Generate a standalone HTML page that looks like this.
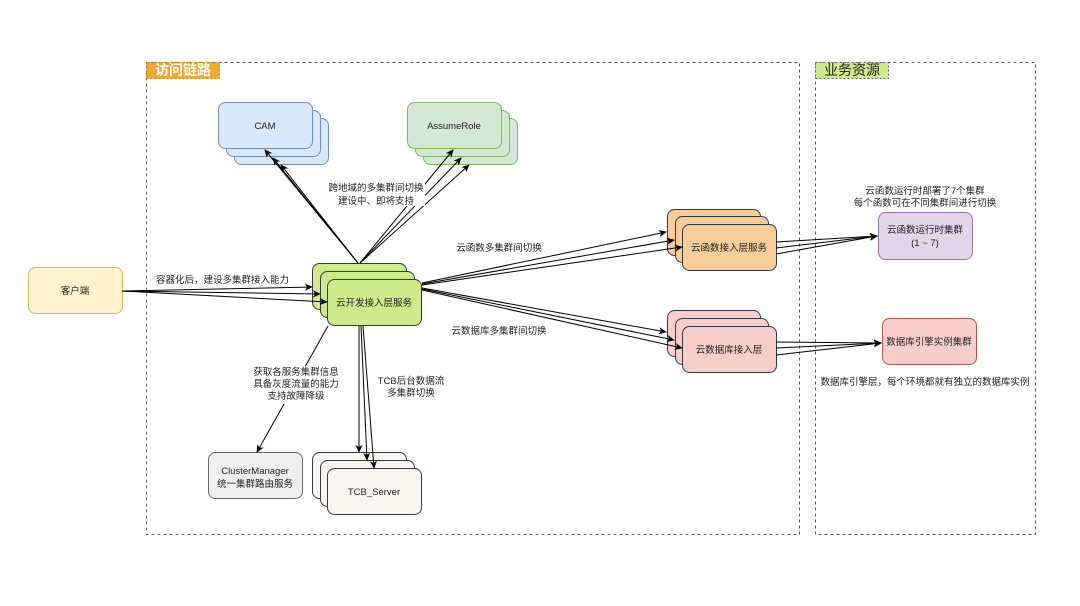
<!DOCTYPE html>
<html><head><meta charset="utf-8"><style>
html,body{margin:0;padding:0;background:#fff;}
svg text{font-family:"Liberation Sans","Noto Sans CJK SC",sans-serif;font-size:9.5px;fill:#222;}
</style></head><body>
<svg width="1080" height="601" viewBox="0 0 1080 601" xmlns="http://www.w3.org/2000/svg">
<defs>
<marker id="a" markerWidth="8" markerHeight="8" refX="7" refY="4" orient="auto" markerUnits="userSpaceOnUse">
<path d="M0,0.5 L8,4 L0,7.5 L2,4 Z" fill="#000"/></marker>
</defs>
<rect x="0" y="0" width="1080" height="601" fill="#fff"/>
<!-- containers -->
<rect x="146.5" y="62.5" width="653" height="472" fill="none" stroke="#555" stroke-dasharray="3,3"/>
<rect x="146.5" y="62.5" width="73" height="16" fill="#f0a830" stroke="#c08020" stroke-dasharray="2,2"/>
<text x="183" y="75" text-anchor="middle" style="font-size:14px;fill:#fff;font-weight:bold">访问链路</text>
<rect x="815.5" y="62.5" width="220" height="472" fill="none" stroke="#555" stroke-dasharray="3,3"/>
<rect x="815.5" y="62.5" width="73" height="16" fill="#cdeb8b" stroke="#666" stroke-dasharray="2,2"/>
<text x="852" y="75" text-anchor="middle" style="font-size:14px;fill:#222">业务资源</text>

<g stroke-width="1">
<rect x="28.5" y="267.5" width="94" height="46" rx="7" fill="#fff2cc" stroke="#d6b656"/>
<text x="75" y="294" text-anchor="middle">客户端</text>
<rect x="234.5" y="118.5" width="94" height="46" rx="7" fill="#dae8fc" stroke="#6c8ebf"/>
<rect x="226.5" y="110.5" width="94" height="46" rx="7" fill="#dae8fc" stroke="#6c8ebf"/>
<rect x="218.5" y="102.5" width="94" height="46" rx="7" fill="#dae8fc" stroke="#6c8ebf"/>
<text x="265" y="129" text-anchor="middle">CAM</text>
<rect x="423.5" y="118.5" width="94" height="46" rx="7" fill="#d5e8d4" stroke="#82b366"/>
<rect x="415.5" y="110.5" width="94" height="46" rx="7" fill="#d5e8d4" stroke="#82b366"/>
<rect x="407.5" y="102.5" width="94" height="46" rx="7" fill="#d5e8d4" stroke="#82b366"/>
<text x="454" y="129" text-anchor="middle">AssumeRole</text>
<rect x="312.5" y="263.5" width="94" height="46" rx="7" fill="#cdeb8b" stroke="#36393d"/>
<rect x="320.5" y="271.5" width="94" height="46" rx="7" fill="#cdeb8b" stroke="#36393d"/>
<rect x="327.5" y="279.5" width="94" height="46" rx="7" fill="#cdeb8b" stroke="#36393d"/>
<text x="374" y="306" text-anchor="middle">云开发接入层服务</text>
<rect x="667.5" y="209.5" width="93" height="46" rx="7" fill="#f8cd9b" stroke="#36393d"/>
<rect x="675.5" y="216.5" width="93" height="46" rx="7" fill="#f8cd9b" stroke="#36393d"/>
<rect x="682.5" y="224.5" width="94" height="46" rx="7" fill="#f8cd9b" stroke="#36393d"/>
<text x="729" y="251" text-anchor="middle">云函数接入层服务</text>
<rect x="667.5" y="310.5" width="93" height="46" rx="7" fill="#f8cecc" stroke="#36393d"/>
<rect x="675.5" y="318.5" width="93" height="46" rx="7" fill="#f8cecc" stroke="#36393d"/>
<rect x="682.5" y="326.5" width="94" height="46" rx="7" fill="#f8cecc" stroke="#36393d"/>
<text x="729" y="353" text-anchor="middle">云数据库接入层</text>
<rect x="878.5" y="212.5" width="94" height="47" rx="7" fill="#e1d5e7" stroke="#9673a6"/>
<text x="925" y="233" text-anchor="middle">云函数运行时集群</text>
<text x="925" y="246" text-anchor="middle">(1 ~ 7)</text>
<rect x="882.5" y="318.5" width="94" height="46" rx="7" fill="#f8cecc" stroke="#b85450"/>
<text x="929" y="345" text-anchor="middle">数据库引擎实例集群</text>
<rect x="208.5" y="452.5" width="94" height="46" rx="7" fill="#eeeeee" stroke="#666"/>
<text x="255" y="474" text-anchor="middle">ClusterManager</text>
<text x="255" y="487" text-anchor="middle">统一集群路由服务</text>
<rect x="312.5" y="452.5" width="94" height="46" rx="7" fill="#f9f7ed" stroke="#36393d"/>
<rect x="320.5" y="460.5" width="94" height="46" rx="7" fill="#f9f7ed" stroke="#36393d"/>
<rect x="327.5" y="468.5" width="94" height="46" rx="7" fill="#f9f7ed" stroke="#36393d"/>
<text x="374" y="495" text-anchor="middle">TCB_Server</text>
</g>

<g stroke="#000" stroke-width="1" fill="none" marker-end="url(#a)">
<path d="M122,291 L312,287"/><path d="M122,291 L320,294"/><path d="M122,291 L327,302"/>
<path d="M358,263 L265,150"/><path d="M358,263 L273,158"/><path d="M358,263 L281,165"/>
<path d="M360,263 L453,150"/><path d="M360,263 L461,158"/><path d="M360,263 L469,165"/>
<path d="M422,283 L666,232"/><path d="M422,284 L674,240"/><path d="M422,285 L682,247"/>
<path d="M422,288 L666,332"/><path d="M422,289 L674,340"/><path d="M422,290 L682,348"/>
<path d="M776,242 L877,236"/><path d="M776,248 L877,236"/><path d="M776,254 L877,236"/>
<path d="M776,342 L881,343"/><path d="M776,348 L881,343"/><path d="M776,355 L881,343"/>
<path d="M328,326 L257,452"/>
<path d="M359,326 L359,452"/><path d="M361,326 L367,460"/><path d="M363,326 L374,468"/>
</g>

<g>
<rect x="327" y="180" width="98" height="26" fill="#fff"/>
<text x="376" y="191" text-anchor="middle">跨地域的多集群间切换</text>
<text x="376" y="204" text-anchor="middle">建设中、即将支持</text>
<text x="156" y="283">容器化后，建设多集群接入能力</text>
<text x="499" y="251" text-anchor="middle">云函数多集群间切换</text>
<text x="499" y="334" text-anchor="middle">云数据库多集群间切换</text>
<rect x="258" y="366" width="76" height="38" fill="#fff"/>
<text x="296" y="375" text-anchor="middle">获取各服务集群信息</text>
<text x="296" y="387" text-anchor="middle">具备灰度流量的能力</text>
<text x="296" y="399" text-anchor="middle">支持故障降级</text>
<text x="411" y="384" text-anchor="middle">TCB后台数据流</text>
<text x="411" y="396" text-anchor="middle">多集群切换</text>
<text x="925" y="194" text-anchor="middle">云函数运行时部署了7个集群</text>
<text x="925" y="206" text-anchor="middle">每个函数可在不同集群间进行切换</text>
<text x="925" y="385" text-anchor="middle">数据库引擎层，每个环境都就有独立的数据库实例</text>
</g>
</svg>
</body></html>
